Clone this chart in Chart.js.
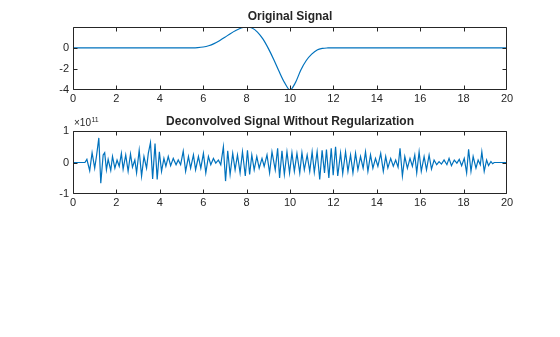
<!DOCTYPE html>
<html>
<head>
<meta charset="utf-8">
<script src="https://cdn.jsdelivr.net/npm/chart.js@4.4.1/dist/chart.umd.min.js"></script>
<style>
  html, body { margin: 0; padding: 0; background: #fff; }
  #wrap { position: relative; width: 560px; height: 337px; background: #fff; }
  canvas { position: absolute; left: 0; }
</style>
</head>
<body>
<div id="wrap">
  <canvas id="c1" width="560" height="110" style="top:0px"></canvas>
  <canvas id="c2" width="560" height="227" style="top:110px"></canvas>
</div>
<script>
// ---------- Data ----------
const titleTop = "Original Signal";
const titleBottom = "Deconvolved Signal Without Regularization";

// Original signal
const origX = [0, 5, 5.5, 5.75, 6.0, 6.25, 6.5, 6.75, 7.0, 7.25, 7.5, 7.75, 8.0, 8.25, 8.5, 8.75, 9.0, 9.25, 9.5, 9.75, 10.0, 10.25, 10.5, 10.75, 11.0, 11.25, 11.5, 11.75, 12, 20];
const origY = [0, 0, 0, 0.02, 0.08, 0.2, 0.4, 0.68, 1.0, 1.35, 1.65, 1.88, 1.98, 1.88, 1.5, 0.85, -0.05, -1.1, -2.25, -3.3, -4.0, -3.3, -2.1, -1.2, -0.6, -0.2, -0.05, -0.01, 0, 0];

// Deconvolved signal (values in units of 1e11)
const deconvX = [0, 0.55, 0.64, 0.77, 0.88, 1.00, 1.08, 1.19, 1.28, 1.39, 1.46, 1.54, 1.62, 1.74, 1.82, 1.93, 2.03, 2.13, 2.23, 2.31, 2.43, 2.54, 2.65, 2.74, 2.85, 2.93, 3.05, 3.16, 3.27, 3.39, 3.47, 3.57, 3.67, 3.78, 3.88, 3.98, 4.08, 4.19, 4.28, 4.39, 4.50, 4.62, 4.75, 4.85, 4.96, 5.08, 5.19, 5.32, 5.42, 5.55, 5.65, 5.78, 5.89, 6.01, 6.12, 6.24, 6.35, 6.47, 6.58, 6.70, 6.81, 6.93, 7.03, 7.13, 7.24, 7.36, 7.47, 7.58, 7.70, 7.81, 7.94, 8.04, 8.14, 8.24, 8.35, 8.47, 8.58, 8.71, 8.81, 8.94, 9.06, 9.17, 9.32, 9.43, 9.52, 9.63, 9.74, 9.86, 9.98, 10.09, 10.20, 10.32, 10.45, 10.55, 10.66, 10.79, 10.91, 11.02, 11.12, 11.25, 11.37, 11.48, 11.59, 11.68, 11.79, 11.90, 11.99, 12.10, 12.20, 12.33, 12.43, 12.56, 12.67, 12.79, 12.90, 13.02, 13.13, 13.25, 13.37, 13.48, 13.59, 13.71, 13.82, 13.94, 14.05, 14.18, 14.30, 14.41, 14.51, 14.64, 14.76, 14.87, 14.98, 15.07, 15.18, 15.29, 15.41, 15.53, 15.64, 15.75, 15.84, 15.95, 16.05, 16.18, 16.29, 16.41, 16.52, 16.64, 16.76, 16.87, 16.98, 17.10, 17.23, 17.33, 17.44, 17.57, 17.69, 17.80, 17.91, 18.03, 18.14, 18.23, 18.34, 18.44, 18.57, 18.67, 18.77, 18.84, 18.95, 19.06, 19.15, 19.26, 19.34, 19.41, 20];
const deconvY = [0, 0, 0.10, -0.26, 0.31, -0.18, 0.19, 0.78, -0.66, 0.24, 0.31, -0.23, 0.10, -0.25, 0.19, -0.18, 0.08, -0.12, 0.29, -0.21, 0.24, -0.28, 0.27, -0.15, 0.08, -0.33, 0.39, -0.43, 0.19, -0.18, 0.29, 0.63, -0.52, 0.60, -0.54, 0.34, -0.28, 0.13, -0.12, 0.19, -0.10, 0.13, -0.07, 0.08, -0.07, 0.36, -0.28, 0.19, -0.18, 0.24, -0.23, 0.19, -0.18, 0.29, -0.33, 0.19, -0.07, 0.13, -0.02, 0.08, -0.07, 0.50, -0.59, 0.37, -0.38, 0.29, -0.23, 0.24, -0.33, 0.34, -0.43, 0.39, -0.38, 0.24, -0.23, 0.19, -0.18, 0.13, -0.12, 0.24, -0.33, 0.34, -0.23, 0.45, -0.49, 0.37, -0.38, 0.34, -0.33, 0.31, -0.28, 0.29, -0.33, 0.31, -0.23, 0.24, -0.28, 0.34, -0.31, 0.34, -0.54, 0.39, -0.33, 0.41, -0.49, 0.45, -0.40, 0.50, -0.43, 0.30, -0.35, 0.34, -0.28, 0.24, -0.33, 0.30, -0.23, 0.19, -0.18, 0.34, -0.28, 0.24, -0.18, 0.13, -0.12, 0.29, -0.28, 0.19, -0.17, 0.13, -0.12, 0.08, -0.15, 0.45, -0.43, 0.19, -0.18, 0.13, -0.12, 0.24, -0.33, 0.34, -0.28, 0.19, -0.23, 0.24, -0.21, 0.08, -0.07, 0.03, -0.05, 0.08, -0.07, 0.13, -0.10, 0.08, -0.02, 0.10, -0.10, 0.13, -0.33, 0.42, -0.28, 0.19, -0.18, 0.08, -0.07, 0.34, -0.28, 0.08, -0.10, 0.03, -0.04, 0, 0];

const xTicks = [0, 2, 4, 6, 8, 10, 12, 14, 16, 18, 20];
const yTicksTop = [-4, -2, 0];
const yTicksBottom = [-1, 0, 1];
const exponentBase = "\u00d710";
const exponentPower = "11";

// ---------- Styling ----------
const AXIS_COLOR = '#262626';
const LINE_COLOR = '#0072BD';
const FONT = '"Liberation Sans", Arial, Helvetica, sans-serif';

function toPoints(xs, ys) { return xs.map((x, i) => ({ x: x, y: ys[i] })); }

const matlabAxes = {
  id: 'matlabAxes',
  afterDraw(chart, args, opts) {
    const ctx = chart.ctx;
    const a = chart.chartArea;
    const L = Math.round(a.left) + 0.5, R = Math.round(a.right) - 0.5;
    const T = Math.round(a.top) + 0.5, B = Math.round(a.bottom) - 0.5;
    const clamp = (v, lo, hi) => Math.min(hi, Math.max(lo, v));
    ctx.save();
    ctx.strokeStyle = AXIS_COLOR;
    ctx.lineWidth = 1;
    ctx.beginPath();
    ctx.rect(L, T, R - L, B - T);
    const tl = 4;
    chart.scales.x.ticks.forEach(t => {
      const px = clamp(Math.round(chart.scales.x.getPixelForValue(t.value)) + 0.5, L, R);
      ctx.moveTo(px, B); ctx.lineTo(px, B - tl);
      ctx.moveTo(px, T); ctx.lineTo(px, T + tl);
    });
    chart.scales.y.ticks.forEach(t => {
      const py = clamp(Math.round(chart.scales.y.getPixelForValue(t.value)) + 0.5, T, B);
      ctx.moveTo(L, py); ctx.lineTo(L + tl, py);
      ctx.moveTo(R, py); ctx.lineTo(R - tl, py);
    });
    ctx.stroke();
    // title
    ctx.fillStyle = AXIS_COLOR;
    ctx.font = 'bold 12px ' + FONT;
    ctx.textAlign = 'center';
    ctx.textBaseline = 'middle';
    ctx.fillText(opts.title, (a.left + a.right) / 2, a.top - opts.titleGap);
    if (opts.exponent) {
      ctx.font = '10px ' + FONT;
      ctx.textAlign = 'left';
      ctx.fillText(exponentBase, a.left + 1, a.top - 8);
      const w = ctx.measureText(exponentBase).width;
      ctx.font = '7px ' + FONT;
      ctx.fillText(exponentPower, a.left + 1 + w + 0.5, a.top - 11);
    }
    ctx.restore();
  }
};

function makeChart(id, xs, ys, yMin, yMax, yTicks, canvasH, areaTop, areaBottom, title, titleGap, exponent, smooth) {
  return new Chart(document.getElementById(id), {
    type: 'scatter',
    data: {
      datasets: [{
        data: toPoints(xs, ys),
        showLine: true,
        borderColor: LINE_COLOR,
        backgroundColor: LINE_COLOR,
        borderWidth: 1.2,
        pointRadius: 0,
        pointHoverRadius: 0,
        tension: 0,
        cubicInterpolationMode: smooth ? 'monotone' : 'default'
      }]
    },
    options: {
      responsive: false,
      animation: false,
      devicePixelRatio: 1,
      events: [],
      layout: { padding: { left: 0, right: 53, top: areaTop, bottom: 0 } },
      plugins: {
        legend: { display: false },
        tooltip: { enabled: false },
        title: { display: false },
        matlabAxes: { title: title, titleGap: titleGap, exponent: exponent }
      },
      scales: {
        x: {
          type: 'linear', min: 0, max: 20,
          afterBuildTicks: s => { s.ticks = xTicks.map(v => ({ value: v })); },
          afterFit: s => { s.height = canvasH - areaBottom; },
          grid: { display: true, drawOnChartArea: false, drawTicks: false },
          border: { display: false },
          ticks: { color: AXIS_COLOR, font: { family: FONT, size: 11 }, padding: 2, maxRotation: 0, autoSkip: false }
        },
        y: {
          type: 'linear', min: yMin, max: yMax,
          afterBuildTicks: s => { s.ticks = yTicks.map(v => ({ value: v })); },
          afterFit: s => { s.width = 73; },
          grid: { display: true, drawOnChartArea: false, drawTicks: false },
          border: { display: false },
          ticks: { color: AXIS_COLOR, font: { family: FONT, size: 11 }, padding: 4, autoSkip: false }
        }
      }
    },
    plugins: [matlabAxes]
  });
}

makeChart('c1', origX, origY, -4, 1.98, yTicksTop, 110, 27, 90, titleTop, 10, false, true);
makeChart('c2', deconvX, deconvY, -1, 1, yTicksBottom, 227, 21, 84, titleBottom, 9, true, false);
</script>
</body>
</html>
